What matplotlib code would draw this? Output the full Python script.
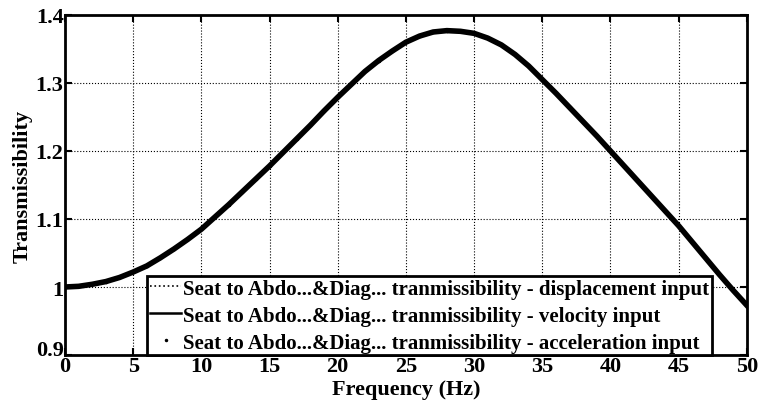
import numpy as np
import matplotlib
matplotlib.use('Agg')
import matplotlib.pyplot as plt
from matplotlib.ticker import FuncFormatter

# values (all three inputs overlap)
freq = list(range(0, 51))
trans = [1.000, 1.001, 1.004, 1.008, 1.014, 1.022, 1.031, 1.043, 1.056, 1.070,
         1.085, 1.103, 1.121, 1.140, 1.159, 1.178, 1.198, 1.218, 1.238, 1.259,
         1.279, 1.298, 1.317, 1.333, 1.347, 1.360, 1.369, 1.375, 1.377, 1.376,
         1.373, 1.366, 1.356, 1.342, 1.325, 1.305, 1.285, 1.264, 1.243, 1.222,
         1.200, 1.178, 1.156, 1.134, 1.112, 1.090, 1.066, 1.042, 1.018, 0.995,
         0.973]

labels = ['Seat to Abdo...&Diag... tranmissibility - displacement input',
          'Seat to Abdo...&Diag... tranmissibility - velocity input',
          'Seat to Abdo...&Diag... tranmissibility - acceleration input']

plt.rcParams['font.family'] = ['Liberation Serif', 'DejaVu Serif']
plt.rcParams['font.weight'] = 'bold'

fig = plt.figure(figsize=(7.59, 4.10), dpi=100)
ax = fig.add_axes([0.0856, 0.1317, 0.8984, 0.8293])

ax.plot(freq, trans, color='black', linestyle=':', linewidth=1.2, label=labels[0])
ax.plot(freq, trans, color='black', linestyle='-', linewidth=4, label=labels[1])
ax.plot(freq, trans, color='black', linestyle='none', marker='.', markersize=3, label=labels[2])

ax.set_xlim(0, 50)
ax.set_ylim(0.9, 1.4)
ax.set_xticks(np.arange(0, 51, 5))
ax.set_yticks([0.9, 1.0, 1.1, 1.2, 1.3, 1.4])
ax.yaxis.set_major_formatter(FuncFormatter(lambda v, p: '%g' % round(v, 2)))

ax.grid(True, color='black', linestyle=':', linewidth=0.8)
ax.tick_params(direction='in', length=5, width=1.5, top=True, right=True, labelsize=16, pad=1)
for s in ax.spines.values():
  s.set_linewidth(2)

# the lowest y label sits just above the x axis, as in the original
fig.canvas.draw()
ax.get_yticklabels()[0].set_verticalalignment('baseline')

ax.set_xlabel('Frequency (Hz)', fontsize=16, fontweight='bold', labelpad=2)
ax.set_ylabel('Transmissibility', fontsize=16, fontweight='bold', labelpad=2)

leg = ax.legend(loc='lower right', bbox_to_anchor=(0.9487, 0.0), borderaxespad=0,
                fancybox=False, framealpha=1, edgecolor='black', fontsize=15,
                handlelength=1.5, handletextpad=0.1, labelspacing=0.33, borderpad=0.12)
leg.get_frame().set_linewidth(2)
for line in leg.get_lines():
  line.set_linewidth(1.8)
leg.get_lines()[0].set_linewidth(1.2)

fig.savefig('out.png', dpi=100)
